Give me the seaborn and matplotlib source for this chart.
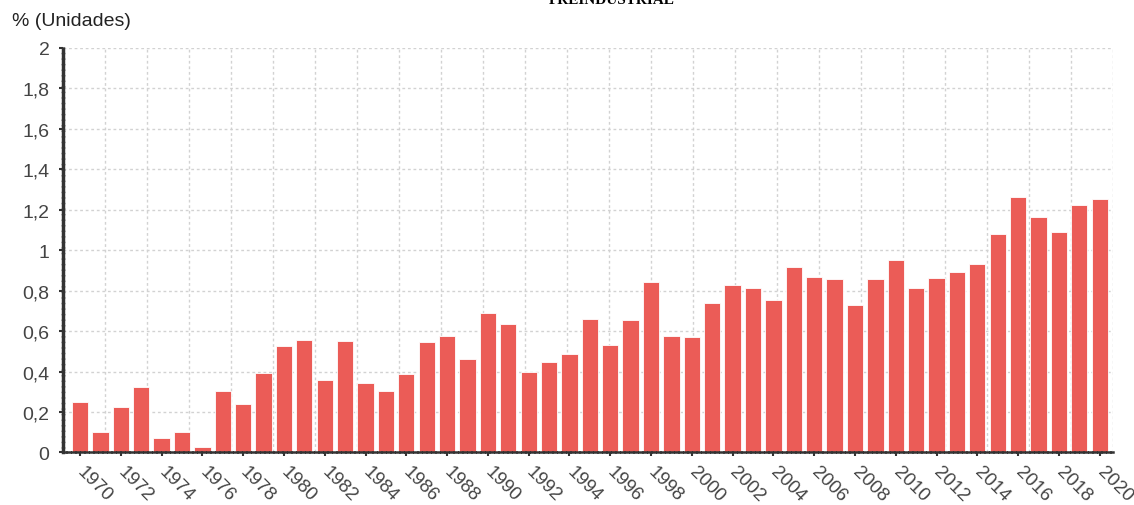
import numpy as np
import pandas as pd
import seaborn as sns
import matplotlib.pyplot as plt
from matplotlib.ticker import FuncFormatter, LinearLocator

# ------------------------------
# Data
# ------------------------------
years = list(range(1970, 2021))
values = [
    0.25, 0.10, 0.225, 0.323, 0.07, 0.10, 0.027, 0.305, 0.242, 0.395,   # 1970-1979
    0.525, 0.557, 0.36, 0.553, 0.343, 0.303, 0.388, 0.545, 0.577, 0.46,  # 1980-1989
    0.692, 0.635, 0.40, 0.449, 0.487, 0.66, 0.533, 0.655, 0.844, 0.574, # 1990-1999
    0.572, 0.739, 0.83, 0.815, 0.752, 0.918, 0.866, 0.859, 0.729, 0.858,# 2000-2009
    0.954, 0.812, 0.863, 0.89, 0.93, 1.079, 1.262, 1.166, 1.088, 1.224, # 2010-2019
    1.255,                                                              # 2020
]
y_ticks = [0, 0.2, 0.4, 0.6, 0.8, 1.0, 1.2, 1.4, 1.6, 1.8, 2.0]
title_text = "PREINDUSTRIAL"
unit_label = "% (Unidades)"

bar_color = "#EB5C57"
text_color = "#444444"
axis_color = "#333333"
grid_color = "#d2d2d2"

df = pd.DataFrame({"year": [str(y) for y in years], "value": values})

# ------------------------------
# Plot
# ------------------------------
sns.set_theme(style="white")
plt.rcParams["font.family"] = ["Liberation Sans", "DejaVu Sans"]

fig = plt.figure(figsize=(11.34, 5.06), dpi=100)
ax = fig.add_axes([0.0558, 0.1038, 0.9260, 0.7994])

sns.barplot(data=df, x="year", y="value", color=bar_color, saturation=1,
            width=0.8, edgecolor="white", linewidth=0.6, ax=ax)

ax.set_xlim(-0.82, len(years) - 1 + 0.67)
ax.set_ylim(0, 2)

# x ticks on every second year
tick_pos = list(range(0, len(years), 2))
ax.set_xticks(tick_pos)
ax.set_xticklabels([str(years[i]) for i in tick_pos], rotation=-45,
                   ha="left", va="center", rotation_mode="anchor")

ax.set_yticks(y_ticks)
ax.yaxis.set_major_formatter(FuncFormatter(
    lambda v, _: f"{v:g}".replace(".", ",")))

# grid: horizontal on y ticks, vertical evenly split in 25 cells
ax.xaxis.set_minor_locator(LinearLocator(26))
ax.grid(False)
ax.grid(True, which="major", axis="y", color=grid_color,
        linestyle=(0, (2, 2)), linewidth=1)
ax.grid(True, which="minor", axis="x", color=grid_color,
        linestyle=(0, (2, 2)), linewidth=1)
ax.set_axisbelow(True)

ax.tick_params(axis="x", which="major", length=3, width=1.5, color=axis_color,
               labelsize=13.5, labelcolor=text_color, pad=9, bottom=True)
ax.tick_params(axis="x", which="minor", length=0)
ax.tick_params(axis="y", length=3, width=1.5, color=axis_color,
               labelsize=14, labelcolor=text_color, pad=7, left=True)

for side in ["top", "right"]:
    ax.spines[side].set_visible(False)
ax.spines["left"].set_color(axis_color)
ax.spines["left"].set_linewidth(2.5)
ax.spines["left"].set_linestyle((0, (1, 0.6)))
ax.spines["bottom"].set_color(axis_color)
ax.spines["bottom"].set_linewidth(1.8)
ax.spines["bottom"].set_linestyle((0, (1, 0.8)))

ax.set_xlabel("")
ax.set_ylabel("")

fig.text(12 / 1134, 1 - 22 / 506, unit_label, ha="left", va="center",
         fontsize=14, color="#222222")
fig.text(0.539, 1 - 4 / 506, title_text, ha="center", va="baseline",
         fontsize=11, fontweight="bold", color="black",
         family=["Liberation Serif", "DejaVu Serif"])

fig.savefig("out.png", dpi=100)
